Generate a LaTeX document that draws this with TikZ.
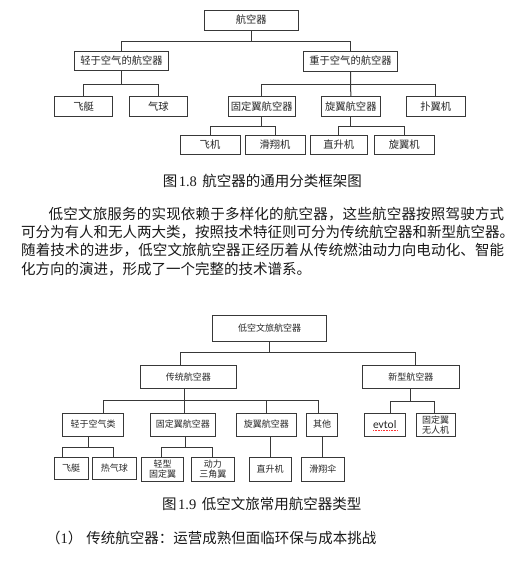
\documentclass[tikz,border=0pt]{standalone}
\usepackage{fontspec}
\setmainfont{Liberation Serif}
\newfontfamily\cjk{Noto Sans CJK SC}
\newfontfamily\latsans{Carlito}
\def\sprd#1{#1\futurelet\sprnext\sprcheck}
\def\sprcheck{\ifx\sprnext\relax\expandafter\sprgobble\else\hfill\expandafter\sprd\fi}
\def\sprgobble#1{}
\begin{document}
\begin{tikzpicture}[x=1pt,y=-1pt,
  sz/.style 2 args={minimum width=#1pt, minimum height=#2pt},
  boxA/.style={draw=black!78, line width=0.9pt, inner sep=0pt, text=black!85,
    font=\cjk\fontsize{10.3}{12}\selectfont},
  boxB/.style={draw=black!78, line width=0.9pt, inner sep=0pt, text=black!85, align=center,
    font=\cjk\fontsize{9}{10.5}\selectfont},
  conn/.style={draw=black!78, line width=1pt},
  bodytext/.style={inner sep=0pt, anchor=west, text=black!90,
    font=\cjk\fontsize{14.5}{18}\selectfont}]
\useasboundingbox[fill=white] (0,0) rectangle (515,564);

% ---------- Figure 1.8 ----------
\node[boxA, sz={94}{20}]   (air)     at (251.3,20)   {航空器};
\node[boxA, sz={94.4}{19.7}] (light) at (121.5,60.9) {轻于空气的航空器};
\node[boxA, sz={94.4}{20}] (heavy)   at (350.5,61)   {重于空气的航空器};
\node[boxA, sz={58}{19.3}] (airship) at (83.7,106.4) {飞艇};
\node[boxA, sz={58}{19.3}] (balloon) at (158.3,106.4) {气球};
\node[boxA, sz={66.7}{19.3}] (fixed) at (261.7,106.4) {固定翼航空器};
\node[boxA, sz={58.3}{19.3}] (rotor) at (350.8,106.4) {旋翼航空器};
\node[boxA, sz={58.3}{19.3}] (flap)  at (435.8,106.4) {扑翼机};
\node[boxA, sz={60}{19}]   (plane)   at (210,144.5)  {飞机};
\node[boxA, sz={60}{19}]   (glider)  at (275,144.5)  {滑翔机};
\node[boxA, sz={57.7}{19}] (heli)    at (338.8,144.5) {直升机};
\node[boxA, sz={60}{19}]   (gyro)    at (404.3,144.5) {旋翼机};

\draw[conn] (air.south) -- ++(0,10.7) -| (light.north);
\draw[conn] (air.south) -- ++(0,10.7) -| (heavy.north);
\draw[conn] (light.south) -- ++(0,13.3) -| (airship.north);
\draw[conn] (light.south) -- ++(0,13.3) -| (balloon.north);
\draw[conn] (heavy.south) -- ++(0,13) -| (fixed.north);
\draw[conn] (heavy.south) -- (rotor.north);
\draw[conn] (heavy.south) -- ++(0,13) -| (flap.north);
\draw[conn] (fixed.south) -- ++(0,9.7) -| (plane.north);
\draw[conn] (fixed.south) -- ++(0,9.7) -| (glider.north);
\draw[conn] (rotor.south) -- ++(0,9.7) -| (heli.north);
\draw[conn] (rotor.south) -- ++(0,9.7) -| (gyro.north);

\node[bodytext] (cap1) at (162.6,180.5) {图\hspace{1.5pt}{\rmfamily 1.8}\hspace{5.5pt}航空器的通用分类框架图};

% ---------- paragraph ----------
\node[bodytext] (p1) at (21,214) {\hbox to 483pt{\hspace*{27.5pt}\sprd 低空文旅服务的实现依赖于多样化的航空器，这些航空器按照驾驶方式\relax}};
\node[bodytext] (p2) at (21,232.3) {可分为有人和无人两大类，按照技术特征则可分为传统航空器和新型航空器。};
\node[bodytext] (p3) at (21,250.6) {\hbox to 483pt{\sprd 随着技术的进步，低空文旅航空器正经历着从传统燃油动力向电动化、智能\relax}};
\node[bodytext] (p4) at (21,268.9) {化方向的演进，形成了一个完整的技术谱系。};

% ---------- Figure 1.9 ----------
\node[boxB, sz={114}{26}]   (root2)  at (269.7,328) {低空文旅航空器};
\node[boxB, sz={96.7}{22.6}] (trad)  at (188.3,377) {传统航空器};
\node[boxB, sz={97}{22.6}]  (newt)   at (410.8,377) {新型航空器};
\node[boxB, sz={60.6}{23}]  (lighter) at (93,424.5) {轻于空气类};
\node[boxB, sz={65.7}{23}]  (fixed2) at (182.8,424.5) {固定翼航空器};
\node[boxB, sz={59.3}{23}]  (rotor2) at (266.3,424.5) {旋翼航空器};
\node[boxB, sz={30.6}{23}]  (other)  at (322,424.5) {其他};
\node[boxB, sz={40.7}{23.2}] (evtol) at (384.7,425) {\latsans\fontsize{11.5}{12}\selectfont evtol};
\node[boxB, sz={38.5}{23.2}] (fixuav) at (435.7,425) {固定翼\\无人机};
\node[boxB, sz={34.3}{22}]  (airship2) at (71.2,468.3) {飞艇};
\node[boxB, sz={43.3}{22}]  (hotball)  at (114.3,468.3) {热气球};
\node[boxB, sz={41.6}{23.7}] (lightfix) at (162.5,469.2) {轻型\\固定翼};
\node[boxB, sz={42.3}{23.7}] (delta)    at (212.8,469.2) {动力\\三角翼};
\node[boxB, sz={42}{23.7}]  (heli2)    at (270,469.2) {直升机};
\node[boxB, sz={42.3}{23.7}] (para)    at (322.8,469.2) {滑翔伞};

\draw[red!80, line width=0.6pt, densely dotted] ([xshift=-11.7pt,yshift=-5.5pt]evtol.center) -- ++(25,0);

\draw[conn] (root2.south) -- ++(0,11.3) -| ([xshift=-8.3pt]trad.north);
\draw[conn] (root2.south) -- ++(0,11.3) -| ([xshift=4.9pt]newt.north);
\draw[conn] ([xshift=-4pt]trad.south) -- ++(0,11.7) -| ([xshift=10.3pt]lighter.north);
\draw[conn] ([xshift=-4pt]trad.south) -- ++(0,11.7) -| ([xshift=1.2pt]fixed2.north);
\draw[conn] ([xshift=-4pt]trad.south) -- ++(0,11.7) -| ([xshift=0.4pt]rotor2.north);
\draw[conn] ([xshift=-4pt]trad.south) -- ++(0,11.7) -| ([xshift=-3.7pt]other.north);
\draw[conn] (newt.south) -- ++(0,12.4) -| ([xshift=5.3pt]evtol.north);
\draw[conn] (newt.south) -- ++(0,12.4) -| ([xshift=-1.4pt]fixuav.north);
\draw[conn] ([xshift=-4.7pt]lighter.south) -- ++(0,11.3) -| ([xshift=-8.5pt]airship2.north);
\draw[conn] ([xshift=-4.7pt]lighter.south) -- ++(0,11.3) -| ([xshift=-1pt]hotball.north);
\draw[conn] ([xshift=2.2pt]fixed2.south) -- ++(0,11.3) -| ([xshift=-0.8pt]lightfix.north);
\draw[conn] ([xshift=2.2pt]fixed2.south) -- ++(0,11.3) -| (delta.north);
\draw[conn] ([xshift=3.7pt]rotor2.south) -- (heli2.north);
\draw[conn] (other.south) -- (other.south |- para.north);

\node[bodytext] (cap2) at (162,504) {图\hspace{1.5pt}{\rmfamily 1.9}\hspace{5.5pt}低空文旅常用航空器类型};
\node[bodytext] (item) at (46,538.3) {（{\rmfamily 1}）\hspace{4pt}传统航空器：运营成熟但面临环保与成本挑战};
\end{tikzpicture}
\end{document}
